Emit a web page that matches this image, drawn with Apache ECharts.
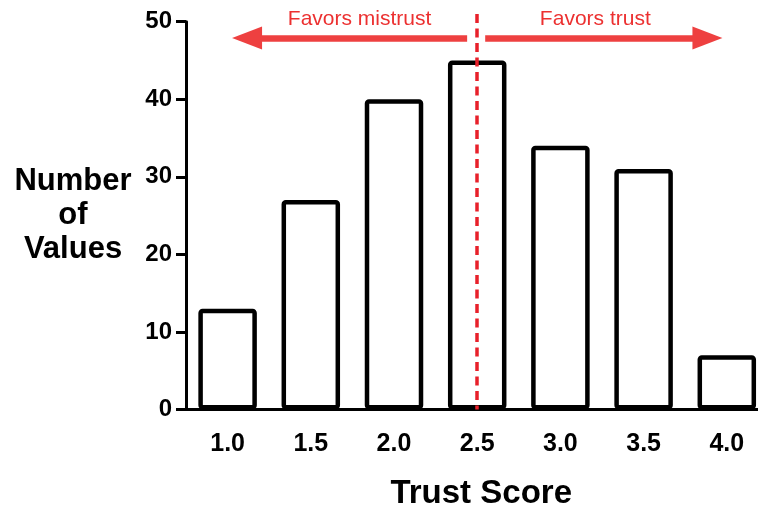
<!DOCTYPE html>
<html>
<head>
<meta charset="utf-8">
<title>Trust Score</title>
<script src="https://cdn.jsdelivr.net/npm/echarts@6/dist/echarts.min.js"></script>
<style>
  html, body { margin: 0; padding: 0; background: #fff; }
  #chart { width: 758px; height: 509px; }
</style>
</head>
<body>
<div id="chart"></div>
<script>
// Histogram data
const trustScores = ['1.0', '1.5', '2.0', '2.5', '3.0', '3.5', '4.0'];
const valueCounts = [13, 27, 40, 45, 34, 31, 7];
const yTicks = [0, 10, 20, 30, 40, 50];

// Annotation layer, in category-index units (x) and count units (y)
const splitAt = 3;              // dashed line at the 2.5 category
const arrowY = 47.9;
const mistrustArrow = [0.234, 2.879];   // [head, tail]
const trustArrow = [3.096, 5.767];      // [tail, head]
const annotationTop = 51;

const FONT = 'Liberation Sans';
const RED = '#ee4040';

const chart = echarts.init(document.getElementById('chart'));

// the plot runs past the right edge in the original, so let the grid overflow
const plotGrid = { left: 186, right: -10.4, bottom: 99.5, outerBoundsMode: 'none', containLabel: false };

const option = {
  animation: false,
  backgroundColor: '#fff',
  textStyle: { fontFamily: FONT },
  grid: [
    { ...plotGrid, top: 21.7 },
    { ...plotGrid, top: 14 },
  ],
  xAxis: [
    {
      type: 'category',
      gridIndex: 0,
      data: trustScores,
      axisLine: { lineStyle: { color: '#000', width: 3 } },
      axisTick: { alignWithLabel: true, length: 10, lineStyle: { color: '#000', width: 3 } },
      axisLabel: { color: '#000', fontSize: 25, fontWeight: 'bold', fontFamily: FONT, margin: 22 },
      name: 'Trust Score',
      nameLocation: 'middle',
      nameGap: 84,
      nameTextStyle: {
        color: '#000', fontSize: 33, fontWeight: 'bold', fontFamily: FONT,
        verticalAlign: 'middle', padding: [0, 0, 0, 8],
      },
    },
    { type: 'value', gridIndex: 1, min: -0.5, max: 6.5, show: false },
  ],
  yAxis: [
    {
      type: 'value',
      gridIndex: 0,
      min: yTicks[0],
      max: yTicks[yTicks.length - 1],
      interval: 10,
      axisLine: { show: true, lineStyle: { color: '#000', width: 3 } },
      axisTick: { show: true, length: 10, lineStyle: { color: '#000', width: 3 } },
      splitLine: { show: false },
      axisLabel: { color: '#000', fontSize: 24, fontWeight: 'bold', fontFamily: FONT, margin: 14 },
      name: 'Number\nof\nValues',
      nameLocation: 'middle',
      nameRotate: 0,
      nameGap: 113,
      nameTextStyle: {
        color: '#000', fontSize: 31, fontWeight: 'bold', fontFamily: FONT,
        lineHeight: 34, align: 'center', verticalAlign: 'middle', padding: [12, 0, 0, 0],
      },
    },
    { type: 'value', gridIndex: 1, min: 0, max: annotationTop, show: false },
  ],
  series: [
    {
      name: 'Number of Values',
      type: 'bar',
      xAxisIndex: 0,
      yAxisIndex: 0,
      data: valueCounts,
      barWidth: 58.5,
      itemStyle: {
        color: '#fff',
        borderColor: '#000',
        borderWidth: 4.5,
        borderRadius: 2,
      },
      silent: true,
    },
    {
      name: 'annotations',
      type: 'line',
      xAxisIndex: 1,
      yAxisIndex: 1,
      data: [],
      silent: true,
      markLine: {
        silent: true,
        animation: false,
        symbol: 'none',
        data: [
          [
            { coord: [splitAt, annotationTop], lineStyle: { color: '#e8202a', width: 3.5, type: [9, 5.5] }, label: { show: false } },
            { coord: [splitAt, 0] },
          ],
          [
            {
              coord: [mistrustArrow[0], arrowY],
              symbol: 'triangle',
              symbolSize: [23, 30],
              lineStyle: { color: RED, width: 6.5, type: 'solid' },
              label: {
                show: true, position: 'middle', formatter: 'Favors mistrust',
                color: '#ec3030', fontSize: 21, fontFamily: FONT, distance: 8,
                padding: [0, 0, 0, 5],
              },
            },
            { coord: [mistrustArrow[1], arrowY], symbol: 'none' },
          ],
          [
            {
              coord: [trustArrow[0], arrowY],
              symbol: 'none',
              lineStyle: { color: RED, width: 6.5, type: 'solid' },
              label: {
                show: true, position: 'middle', formatter: 'Favors trust',
                color: '#ec3030', fontSize: 21, fontFamily: FONT, distance: 8,
                padding: [0, 2, 0, 0],
              },
            },
            { coord: [trustArrow[1], arrowY], symbol: 'triangle', symbolSize: [23, 30] },
          ],
        ],
      },
    },
  ],
};

chart.setOption(option);

window.addEventListener('resize', () => chart.resize());
</script>
</body>
</html>
